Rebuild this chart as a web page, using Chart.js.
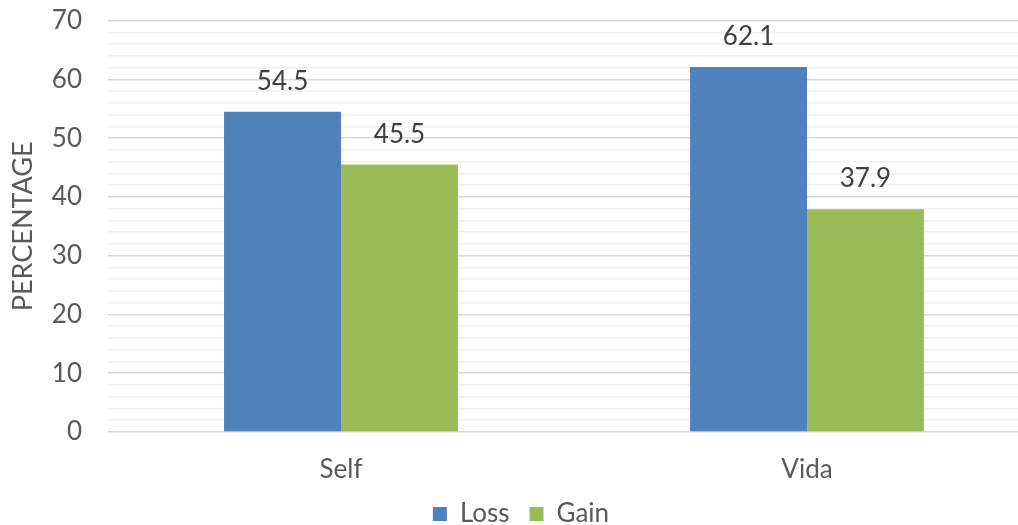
<!DOCTYPE html>
<html>
<head>
<meta charset="utf-8">
<script src="https://cdn.jsdelivr.net/npm/chart.js@4.4.1/dist/chart.umd.min.js"></script>
<style>
html,body{margin:0;padding:0;background:#fff;overflow:hidden;}
#wrap{width:1050px;height:546px;margin-top:-21px;}
</style>
</head>
<body>
<div id="wrap"><canvas id="c" width="1050" height="546"></canvas></div>
<script>
const categories = ['Self', 'Vida'];
const lossValues = [54.5, 62.1];
const gainValues = [45.5, 37.9];
const yTickLabels = [0, 10, 20, 30, 40, 50, 60, 70];
const seriesNames = ['Loss', 'Gain'];

const FONT = 'Lato, "Open Sans", sans-serif';

const dataLabels = {
  id: 'dataLabels',
  afterDatasetsDraw(chart) {
    const ctx = chart.ctx;
    ctx.save();
    ctx.font = '26px ' + FONT;
    ctx.fillStyle = '#404040';
    ctx.textAlign = 'center';
    ctx.textBaseline = 'alphabetic';
    chart.data.datasets.forEach((ds, i) => {
      const meta = chart.getDatasetMeta(i);
      meta.data.forEach((bar, j) => {
        ctx.fillText(ds.data[j].toFixed(1), bar.x, bar.y - 22);
      });
    });
    ctx.restore();
  }
};

const legendShift = {
  id: 'legendShift',
  afterLayout(chart) {
    const lg = chart.legend;
    if (lg) {
      lg.left -= 9; lg.right -= 9; lg.top += 2; lg.bottom += 2;
      try { lg.options.labels.padding = 20; } catch (e) {}
    }
  }
};

new Chart(document.getElementById('c'), {
  type: 'bar',
  data: {
    labels: categories,
    datasets: [
      { label: seriesNames[0], data: lossValues, backgroundColor: '#4F81BD', categoryPercentage: 0.502, barPercentage: 1 },
      { label: seriesNames[1], data: gainValues, backgroundColor: '#9BBB59', categoryPercentage: 0.502, barPercentage: 1 }
    ]
  },
  options: {
    responsive: false,
    animation: false,
    events: [],
    layout: { padding: { top: 0, right: 10, left: 0, bottom: 0 } },
    plugins: {
      tooltip: { enabled: false },
      legend: {
        position: 'bottom',
        labels: {
          font: { family: FONT, size: 26 },
          color: '#595959',
          boxWidth: 14,
          boxHeight: 14,
          padding: 10
        }
      }
    },
    scales: {
      x: {
        grid: { display: false },
        border: { display: false },
        ticks: { font: { family: FONT, size: 26 }, color: '#595959', padding: 14 },
        afterFit(s) { s.height = 47; }
      },
      y: {
        min: 0, max: 70,
        border: { display: false },
        grid: {
          drawTicks: false,
          color: ctx => (ctx.tick && ctx.tick.value % 10 === 0) ? '#d9d9d9' : '#f0f0f0',
          lineWidth: 1.5
        },
        ticks: {
          stepSize: 2,
          autoSkip: false,
          font: { family: FONT, size: 26 },
          color: '#595959',
          padding: 26,
          callback: v => yTickLabels.includes(v) ? String(v) : ''
        },
        title: {
          display: true,
          text: 'PERCENTAGE',
          font: { family: FONT, size: 27 },
          color: '#595959',
          padding: { top: 7, bottom: 0 }
        },
        afterFit(s) { s.width = 108; }
      }
    }
  },
  plugins: [dataLabels, legendShift]
});
</script>
</body>
</html>
